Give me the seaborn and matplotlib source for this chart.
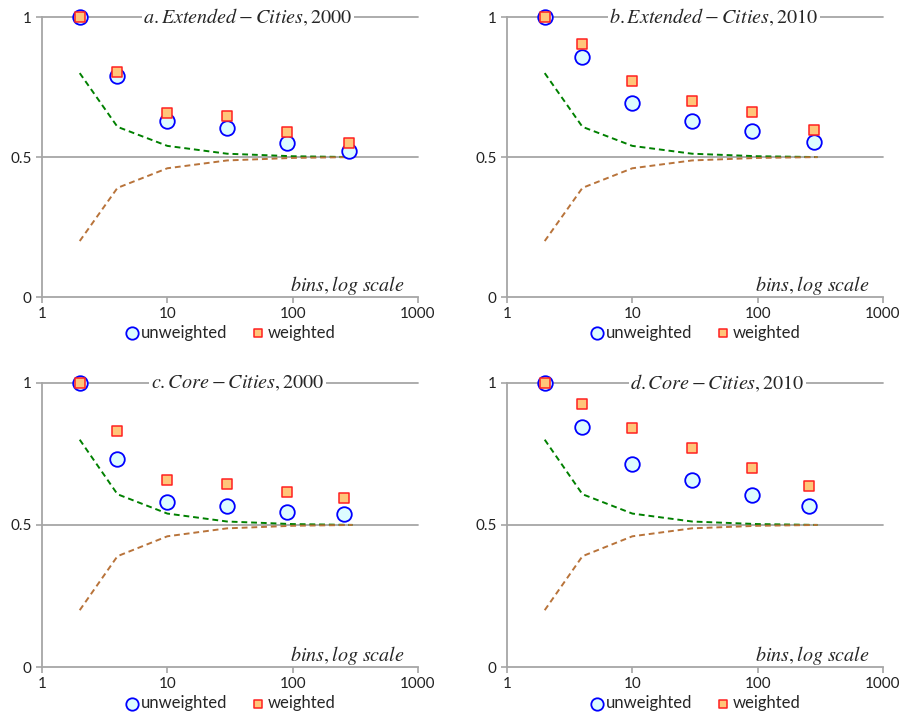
import matplotlib
matplotlib.use("Agg")
import matplotlib.pyplot as plt
import seaborn as sns
import pandas as pd

# bin counts used for the points (extended vs core cities)
bins_ext = [2, 4, 10, 30, 90, 280]
bins_core = [2, 4, 10, 30, 90, 256]

# dashed reference band
band_x = [2, 4, 10, 30, 100, 300]
band_upper = [0.8, 0.608, 0.54, 0.512, 0.503, 0.5]
band_lower = [0.2, 0.39, 0.46, 0.488, 0.497, 0.5]

titles = [r"$a.Extended-Cities,2000$", r"$b.Extended-Cities,2010$",
          r"$c.Core-Cities,2000$", r"$d.Core-Cities,2010$"]

unw_a = [1.0, 0.789, 0.629, 0.603, 0.549, 0.523]
w_a = [1.0, 0.803, 0.659, 0.645, 0.589, 0.551]
unw_b = [1.0, 0.856, 0.692, 0.629, 0.593, 0.553]
w_b = [1.0, 0.903, 0.771, 0.702, 0.660, 0.597]
unw_c = [1.0, 0.733, 0.579, 0.565, 0.545, 0.537]
w_c = [1.0, 0.832, 0.658, 0.644, 0.615, 0.594]
unw_d = [1.0, 0.845, 0.715, 0.657, 0.604, 0.567]
w_d = [1.0, 0.924, 0.840, 0.771, 0.700, 0.637]

sns.set_style("white")
plt.rcParams['font.family'] = ['Lato', 'DejaVu Sans']
plt.rcParams['mathtext.fontset'] = 'stix'

GRAY = "#A6A6A6"

panels = [
    (bins_ext, unw_a, w_a, titles[0], [0.0464, 0.584, 0.4155, 0.392], 0.548),
    (bins_ext, unw_b, w_b, titles[1], [0.5602, 0.584, 0.4155, 0.392], 0.55),
    (bins_core, unw_c, w_c, titles[2], [0.0464, 0.0658, 0.4155, 0.398], 0.52),
    (bins_core, unw_d, w_d, titles[3], [0.5602, 0.0658, 0.4155, 0.398], 0.56),
]

fig = plt.figure(figsize=(9.05, 7.14), dpi=100)

for bins, unw, w, title, rect, tx in panels:
    ax = fig.add_axes(rect)
    band = pd.DataFrame({"x": band_x, "up": band_upper, "lo": band_lower})
    pts = pd.DataFrame({"x": bins, "unweighted": unw, "weighted": w})

    sns.lineplot(data=band, x="x", y="up", ax=ax, color="#008000", lw=1.4,
                 legend=False, zorder=2).lines[-1].set_dashes((3, 2))
    sns.lineplot(data=band, x="x", y="lo", ax=ax, color="#B8733A", lw=1.4,
                 legend=False, zorder=2).lines[-1].set_dashes((3, 2))

    sns.scatterplot(data=pts, x="x", y="unweighted", ax=ax, marker="o", s=110,
                    color="#DDFCFF", edgecolor="#0000FF", linewidth=1.3,
                    label="unweighted", zorder=4, clip_on=False)
    sns.scatterplot(data=pts, x="x", y="weighted", ax=ax, marker="s", s=50,
                    color="#FFC67A", edgecolor="#FF2020", linewidth=1.1,
                    label="weighted", zorder=5, clip_on=False)

    ax.set_xscale("log")
    ax.set_xlim(1, 1000)
    ax.set_ylim(0, 1)
    ax.set_xticks([1, 10, 100, 1000])
    ax.set_xticklabels(["1", "10", "100", "1000"])
    ax.minorticks_off()
    ax.set_yticks([0, 0.5, 1])
    ax.set_yticklabels(["0", "0.5", "1"])
    ax.set_xlabel("")
    ax.set_ylabel("")
    for y in (0.5, 1):
        ax.axhline(y, color=GRAY, lw=1.3, zorder=1, clip_on=False)
    for s in ("top", "right"):
        ax.spines[s].set_visible(False)
    for s in ("left", "bottom"):
        ax.spines[s].set_color(GRAY)
        ax.spines[s].set_linewidth(1.3)
    ax.tick_params(axis="both", direction="out", length=4, width=1.2,
                   color=GRAY, labelsize=11, labelcolor="#222222",
                   bottom=True, left=True)
    ax.tick_params(axis="x", pad=3)

    ax.text(tx, 1.0, title, transform=ax.transAxes, ha="center", va="center",
            fontsize=14.5, zorder=3,
            bbox=dict(facecolor="white", edgecolor="none", pad=1))
    ax.text(0.965, 0.04, r"$bins,log\ scale$", transform=ax.transAxes,
            ha="right", va="center", fontsize=14.5)

    ax.legend(loc="upper center", bbox_to_anchor=(0.5, -0.075), ncol=2,
              frameon=False, fontsize=12, handletextpad=0.1, handlelength=0.9,
              columnspacing=1.4, borderaxespad=0, markerscale=0.85)

fig.savefig("out.png", dpi=100)
